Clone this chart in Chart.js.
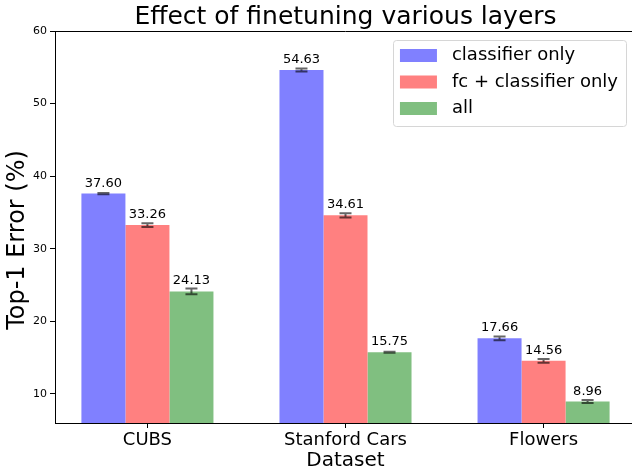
<!DOCTYPE html>
<html><head><meta charset="utf-8">
<script src="https://cdn.jsdelivr.net/npm/chart.js@4"></script>
<style>html,body{margin:0;padding:0;overflow:hidden;background:#fff}#wrap{width:640px;height:471px}</style>
</head><body><div id="wrap"><canvas id="c" width="640" height="471"></canvas></div>
<script>
const categories = ['CUBS', 'Stanford Cars', 'Flowers'];
const seriesNames = ['classifier only', 'fc + classifier only', 'all'];
const classifierOnly = [37.60, 54.63, 17.66];
const fcClassifier = [33.26, 34.61, 14.56];
const allLayers = [24.13, 15.75, 8.96];
const classifierErr = [0.08, 0.2, 0.25];
const fcErr = [0.25, 0.3, 0.25];
const allErr = [0.4, 0.08, 0.2];
const yTicks = [10, 20, 30, 40, 50, 60];
const xPositions = [0, 1, 2];
const yMin = 6, yMax = 60;
const xMin = -0.4667, xMax = 2.4667;
const yAxisLabel = 'Top-1 Error (%)';

const seriesValues = [classifierOnly, fcClassifier, allLayers];
const seriesErrors = [classifierErr, fcErr, allErr];
const colors = ['#8080ff', '#ff8080', '#80bf80'];
const FONT = 'DejaVu Sans';
Chart.defaults.font.family = FONT;
Chart.defaults.color = '#000';

const overlay = {
  id: 'overlay',
  afterDatasetsDraw(chart) {
    const ctx = chart.ctx, ya = chart.scales.y, ca = chart.chartArea;
    ctx.save();
    // top and right spines
    ctx.strokeStyle = '#000'; ctx.lineWidth = 1;
    ctx.beginPath();
    ctx.moveTo(ca.left, Math.round(ca.top) + 0.5); ctx.lineTo(ca.right, Math.round(ca.top) + 0.5);
    ctx.moveTo(Math.round(ca.right) - 0.5, ca.top); ctx.lineTo(Math.round(ca.right) - 0.5, ca.bottom);
    ctx.stroke();
    // error bars + value labels
    chart.data.datasets.forEach((ds, di) => {
      const meta = chart.getDatasetMeta(di);
      meta.data.forEach((bar, i) => {
        const v = seriesValues[di][i], e = seriesErrors[di][i];
        const x = bar.x;
        const y1 = ya.getPixelForValue(v - e), y2 = ya.getPixelForValue(v + e);
        ctx.strokeStyle = 'rgba(0,0,0,0.6)'; ctx.lineWidth = 2;
        ctx.beginPath();
        ctx.moveTo(x, y1); ctx.lineTo(x, y2);
        ctx.moveTo(x - 6, y1); ctx.lineTo(x + 6, y1);
        ctx.moveTo(x - 6, y2); ctx.lineTo(x + 6, y2);
        ctx.stroke();
        ctx.fillStyle = '#000';
        ctx.font = '13px "' + FONT + '"';
        ctx.textAlign = 'center'; ctx.textBaseline = 'alphabetic';
        ctx.fillText(v.toFixed(2), x, ya.getPixelForValue(v) - 7);
      });
    });
    // y axis label
    ctx.save();
    ctx.translate(18, 240);
    ctx.rotate(-Math.PI / 2);
    ctx.font = '24px "' + FONT + '"';
    ctx.fillStyle = '#000'; ctx.textAlign = 'center'; ctx.textBaseline = 'middle';
    ctx.fillText(yAxisLabel, 0, 0);
    ctx.restore();
    // legend
    ctx.font = '18px "' + FONT + '"';
    let maxW = 0;
    seriesNames.forEach(n => { maxW = Math.max(maxW, ctx.measureText(n).width); });
    const bw = 59 + maxW + 8, bh = 86;
    const bx = ca.right - 10 - bw, by = ca.top + 9;
    ctx.fillStyle = 'rgba(255,255,255,0.8)';
    ctx.strokeStyle = '#d6d6d6'; ctx.lineWidth = 1;
    ctx.beginPath();
    ctx.roundRect(Math.round(bx) + 0.5, Math.round(by) + 0.5, Math.round(bw), bh, 3);
    ctx.fill(); ctx.stroke();
    seriesNames.forEach((n, k) => {
      const cy = by + 15.5 + k * 26.5;
      ctx.fillStyle = colors[k];
      ctx.fillRect(bx + 7, cy - 6.5, 37, 13);
      ctx.fillStyle = '#000';
      ctx.textAlign = 'left'; ctx.textBaseline = 'middle';
      ctx.fillText(n, bx + 59, cy);
    });
    ctx.restore();
  }
};

new Chart(document.getElementById('c'), {
  type: 'bar',
  data: {
    datasets: seriesNames.map((name, di) => ({
      label: name,
      data: xPositions.map((x, i) => ({ x: x, y: seriesValues[di][i] })),
      backgroundColor: colors[di],
      borderWidth: 0,
      base: yMin,
      categoryPercentage: 0.6667,
      barPercentage: 1
    }))
  },
  options: {
    responsive: false,
    devicePixelRatio: 1,
    animation: false,
    layout: { padding: { left: 0, right: 4, top: 0, bottom: 0 } },
    plugins: {
      legend: { display: false },
      tooltip: { enabled: false },
      title: {
        display: true, text: 'Effect of finetuning various layers',
        font: { size: 25, weight: 'normal', family: FONT, lineHeight: 1.08 }, color: '#000',
        padding: { top: 4, bottom: 0 }, fullSize: false
      }
    },
    scales: {
      x: {
        type: 'linear', min: xMin, max: xMax, offset: false,
        afterBuildTicks: s => { s.ticks = xPositions.map(v => ({ value: v })); },
        afterFit: s => { s.height = 48; },
        ticks: { font: { size: 18 }, color: '#000', padding: 2, autoSkip: false, maxRotation: 0,
          callback: v => categories[v] !== undefined ? categories[v] : '' },
        grid: { display: true, drawOnChartArea: false, drawTicks: true, tickLength: 5, tickColor: '#000', offset: false },
        border: { display: true, color: '#000', width: 1 },
        title: { display: true, text: 'Dataset', font: { size: 20, lineHeight: 1.0 }, color: '#000', padding: { top: 0, bottom: 0 } }
      },
      y: {
        min: yMin, max: yMax,
        afterBuildTicks: s => { s.ticks = yTicks.map(v => ({ value: v })); },
        afterFit: s => { s.width = 55; },
        ticks: { font: { size: 11 }, color: '#000', padding: 3 },
        grid: { display: true, drawOnChartArea: false, drawTicks: true, tickLength: 5, tickColor: '#000' },
        border: { display: true, color: '#000', width: 1 },
        title: { display: false }
      }
    }
  },
  plugins: [overlay]
});
</script>
</body></html>
